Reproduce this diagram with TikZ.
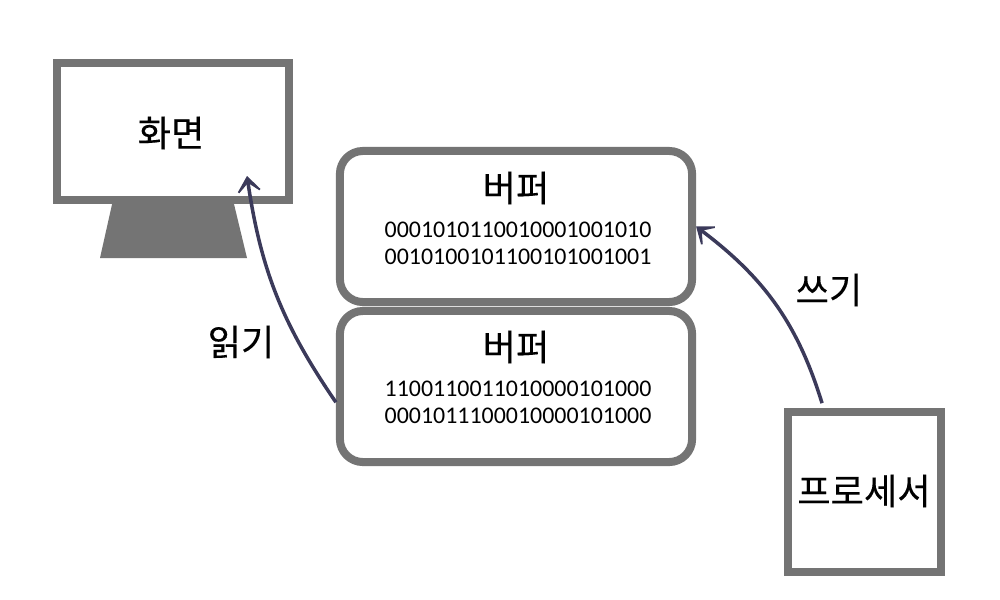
\documentclass[tikz,border=0pt]{standalone}
\usepackage{fontspec}
\setmainfont[FakeBold=0.25]{Noto Sans CJK KR}
\newfontfamily\bitfont{Carlito}
\usetikzlibrary{arrows.meta}
\definecolor{framegray}{HTML}{747474}
\definecolor{arrowink}{HTML}{3B3A5A}
\tikzset{
    framebox/.style={draw=framegray,line width=0.08cm,fill=white,inner sep=0pt},
    bufferbox/.style={framebox,rounded corners=0.23cm,minimum width=3.52cm,minimum height=1.51cm},
    titletext/.style={font=\fontsize{10.3pt}{12pt}\selectfont,inner sep=0pt},
    bitstext/.style={font=\bitfont\fontsize{6.8pt}{7.7pt}\selectfont,align=center,inner sep=0pt},
    flow/.style={draw=arrowink,line width=0.035cm,-{Stealth[length=0.22cm,width=0.34cm,inset=0.15cm]}}
}
\begin{document}
\begin{tikzpicture}[x=0.01cm,y=-0.01cm]
        \useasboundingbox (0,0) rectangle (1000,600);
        \fill[white] (0,0) rectangle (1000,600);
        % monitor
        \fill[framegray] (113,200) -- (233,200) -- (247,258) -- (100,258) -- cycle;
        \node[framebox,minimum width=2.32cm,minimum height=1.37cm] (screen) at (173,131.5){};
        \node[titletext] (screenlabel) at (171,133){화면};
        % buffers
        \node[bufferbox] (bufferA) at (516,226.5){};
        \node[bufferbox] (bufferB) at (516,386.5){};
        \node[titletext] (titleA) at (516,188){버퍼};
        \node[titletext] (titleB) at (516,347){버퍼};
        \node[bitstext] (bitsA) at (518,243){0001010110010001001010\\0010100101100101001001};
        \node[bitstext] (bitsB) at (518,402){1100110011010000101000\\0001011100010000101000};
        % processor
        \node[framebox,minimum width=1.53cm,minimum height=1.60cm] (proc) at (864.5,492){};
        \node[titletext] (proclabel) at (864,491){프로세서};
        % arrows
        \coordinate (readtip) at (247,176);
        \draw[flow] (bufferB.185) to[bend left=13] (readtip);
        \draw[flow,shorten <=0.05cm] (proc.116) to[bend right=18] (bufferA.east);
        \node[titletext] (readlabel) at (241,342){읽기};
        \node[titletext] (writelabel) at (829,290){쓰기};
    \end{tikzpicture}
\end{document}
